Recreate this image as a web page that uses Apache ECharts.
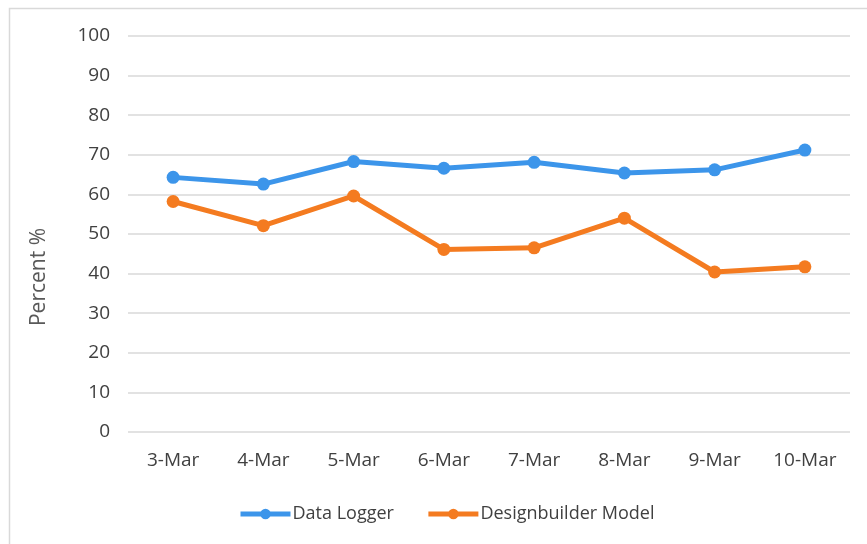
<!DOCTYPE html>
<html>
<head>
<meta charset="utf-8">
<script src="https://cdn.jsdelivr.net/npm/echarts@6/dist/echarts.min.js"></script>
<style>
  html, body { margin: 0; padding: 0; background: #fff; }
  #chart { width: 867px; height: 544px; }
</style>
</head>
<body>
<div id="chart"></div>
<script>
// chart data
var dates = ["3-Mar", "4-Mar", "5-Mar", "6-Mar", "7-Mar", "8-Mar", "9-Mar", "10-Mar"];
var dataLogger = [64.3, 62.6, 68.3, 66.6, 68.1, 65.4, 66.2, 71.2];
var designbuilder = [58.2, 52.1, 59.6, 46.1, 46.5, 54.0, 40.4, 41.7];
var yTicks = [0, 100, 10]; // min, max, step

var voChart = echarts.init(document.getElementById("chart"));

var fontFam = "'Open Sans', 'Liberation Sans', sans-serif";

var voOption = {
    backgroundColor: "#fff",
    animation: false,
    textStyle: { fontFamily: fontFam },
    grid: { left: 128, right: 17, top: 36, bottom: 112 },
    legend: {
        bottom: 16,
        left: 233,
        itemWidth: 50,
        itemHeight: 13,
        itemGap: 32,
        lineStyle: { width: 5 },
        textStyle: { color: "#404040", fontSize: 18, fontFamily: fontFam, padding: [0, 0, 0, -3] },
        data: ["Data Logger", "Designbuilder Model"]
    },
    graphic: [
        {
            type: "rect",
            shape: { x: 9.5, y: 8.5, width: 900, height: 600 },
            style: { fill: "none", stroke: "#d9d9d9", lineWidth: 1.5 },
            silent: true
        },
        {
            type: "text",
            x: 39, y: 277,
            rotation: Math.PI / 2,
            style: {
                text: "Percent %",
                fill: "#595959",
                fontSize: 21,
                fontFamily: fontFam,
                align: "center",
                verticalAlign: "middle"
            }
        }
    ],
    xAxis: {
        type: "category",
        data: dates,
        boundaryGap: true,
        axisLine: { show: false },
        axisTick: { show: false },
        axisLabel: { color: "#404040", fontSize: 19, margin: 19 }
    },
    yAxis: {
        type: "value",
        min: yTicks[0],
        max: yTicks[1],
        interval: yTicks[2],
        axisLine: { show: false },
        axisTick: { show: false },
        axisLabel: { color: "#404040", fontSize: 19, margin: 18 },
        splitLine: { lineStyle: { color: "#d9d9d9", width: 1.5 } }
    },
    series: [
        {
            name: "Data Logger",
            type: "line",
            data: dataLogger,
            symbol: "circle",
            symbolSize: 13,
            color: "#3c95ea",
            lineStyle: { width: 5, color: "#3c95ea" },
            itemStyle: { color: "#3c95ea" }
        },
        {
            name: "Designbuilder Model",
            type: "line",
            data: designbuilder,
            symbol: "circle",
            symbolSize: 13,
            color: "#f47b20",
            lineStyle: { width: 5, color: "#f47b20" },
            itemStyle: { color: "#f47b20" }
        }
    ]
};

voChart.setOption(voOption);
</script>
</body>
</html>
